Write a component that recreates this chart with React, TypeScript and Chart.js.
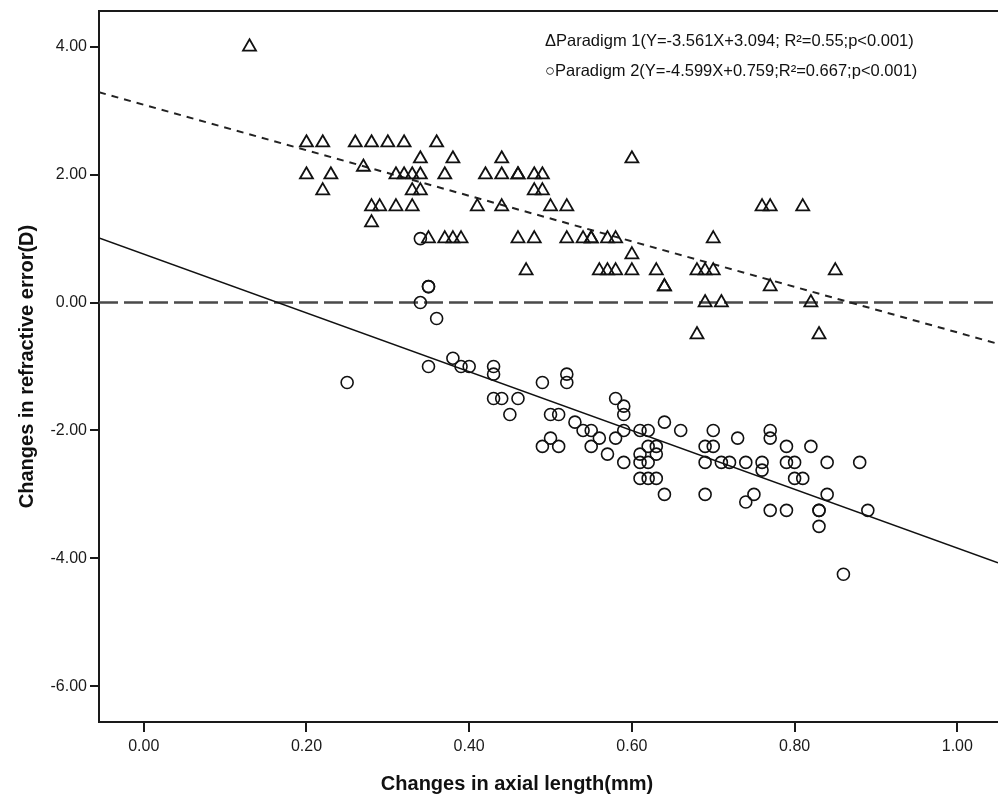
import React, { useEffect, useRef } from "react";
import { Chart, registerables } from "chart.js";

Chart.register(...registerables);

// Paradigm 1 (triangles)
const p1X = [
  0.13,
  0.20, 0.22, 0.26, 0.28, 0.30, 0.32, 0.36,
  0.34, 0.38, 0.44, 0.60,
  0.27,
  0.20, 0.23, 0.31, 0.32, 0.33, 0.34, 0.37, 0.42, 0.44, 0.46, 0.46, 0.48, 0.49,
  0.22, 0.33, 0.34, 0.48, 0.49,
  0.28, 0.29, 0.31, 0.33, 0.41, 0.44, 0.50, 0.52, 0.76, 0.77, 0.81,
  0.28,
  0.35, 0.37, 0.38, 0.39, 0.46, 0.48, 0.52, 0.54, 0.55, 0.55, 0.57, 0.58, 0.70,
  0.60,
  0.47, 0.56, 0.57, 0.58, 0.60, 0.63, 0.68, 0.69, 0.70, 0.85,
  0.64, 0.64, 0.77,
  0.69, 0.71, 0.82,
  0.68, 0.83,
];
const p1Y = [
  4.0,
  2.5, 2.5, 2.5, 2.5, 2.5, 2.5, 2.5,
  2.25, 2.25, 2.25, 2.25,
  2.12,
  2.0, 2.0, 2.0, 2.0, 2.0, 2.0, 2.0, 2.0, 2.0, 2.0, 2.0, 2.0, 2.0,
  1.75, 1.75, 1.75, 1.75, 1.75,
  1.5, 1.5, 1.5, 1.5, 1.5, 1.5, 1.5, 1.5, 1.5, 1.5, 1.5,
  1.25,
  1.0, 1.0, 1.0, 1.0, 1.0, 1.0, 1.0, 1.0, 1.0, 1.0, 1.0, 1.0, 1.0,
  0.75,
  0.5, 0.5, 0.5, 0.5, 0.5, 0.5, 0.5, 0.5, 0.5, 0.5,
  0.25, 0.25, 0.25,
  0.0, 0.0, 0.0,
  -0.5, -0.5,
];

// Paradigm 2 (circles)
const p2X = [
  0.25, 0.34, 0.35, 0.35, 0.34, 0.36, 0.38,
  0.35, 0.39, 0.40, 0.43, 0.43,
  0.43, 0.44, 0.46, 0.45, 0.49,
  0.50, 0.51, 0.50, 0.49, 0.51,
  0.52, 0.52, 0.53, 0.54, 0.55, 0.56, 0.55, 0.57,
  0.58, 0.59, 0.59, 0.59, 0.58, 0.59,
  0.61, 0.62, 0.62, 0.63, 0.61, 0.63, 0.61, 0.62, 0.61, 0.62, 0.63,
  0.64, 0.64, 0.66, 0.69, 0.70, 0.70, 0.69, 0.71, 0.72, 0.69,
  0.73, 0.74, 0.76, 0.76, 0.77, 0.77, 0.74, 0.75, 0.77, 0.79,
  0.79, 0.79, 0.80, 0.80, 0.81, 0.82, 0.83, 0.83, 0.83,
  0.84, 0.84, 0.88, 0.89, 0.86,
];
const p2Y = [
  -1.25, 1.0, 0.25, 0.25, 0.0, -0.25, -0.87,
  -1.0, -1.0, -1.0, -1.0, -1.12,
  -1.5, -1.5, -1.5, -1.75, -1.25,
  -1.75, -1.75, -2.12, -2.25, -2.25,
  -1.12, -1.25, -1.87, -2.0, -2.0, -2.12, -2.25, -2.37,
  -1.5, -1.62, -1.75, -2.0, -2.12, -2.5,
  -2.0, -2.0, -2.25, -2.25, -2.37, -2.37, -2.5, -2.5, -2.75, -2.75, -2.75,
  -1.87, -3.0, -2.0, -2.25, -2.25, -2.0, -2.5, -2.5, -2.5, -3.0,
  -2.12, -2.5, -2.5, -2.62, -2.0, -2.12, -3.12, -3.0, -3.25, -3.25,
  -2.25, -2.5, -2.5, -2.75, -2.75, -2.25, -3.25, -3.25, -3.5,
  -2.5, -3.0, -2.5, -3.25, -4.25,
];

// Fit lines (end points) and reference line
const fitX = [-0.055, 1.05];
const fit1Y = [3.29, -0.645];
const fit2Y = [1.01, -4.07];
const zeroY = [0, 0];

const xTicks = [0, 0.2, 0.4, 0.6, 0.8, 1.0];
const yTicks = [-6, -4, -2, 0, 2, 4];

const legendLines = [
  "\u0394Paradigm 1(Y=-3.561X+3.094; R\u00b2=0.55;p<0.001)",
  "\u25cbParadigm 2(Y=-4.599X+0.759;R\u00b2=0.667;p<0.001)",
];
const xTitle = "Changes in axial length(mm)";
const yTitle = "Changes in refractive error(D)";

const FONT = '"Liberation Sans", Arial, sans-serif';
const INK = "#1a1a1a";

const pts = (xs: number[], ys: number[]) => xs.map((x, i) => ({ x, y: ys[i] }));

const textPlugin = {
  id: "textPlugin",
  afterDraw(chart: any) {
    const { ctx, chartArea } = chart;
    ctx.save();
    // top frame line
    ctx.strokeStyle = INK;
    ctx.lineWidth = 2;
    ctx.beginPath();
    ctx.moveTo(chartArea.left, chartArea.top);
    ctx.lineTo(chartArea.right, chartArea.top);
    ctx.stroke();
    // legend text
    ctx.fillStyle = "#111";
    ctx.font = `16.5px ${FONT}`;
    ctx.textAlign = "left";
    ctx.textBaseline = "middle";
    ctx.fillText(legendLines[0], 545, 41);
    ctx.fillText(legendLines[1], 545, 71);
    // x title
    ctx.font = `bold 20px ${FONT}`;
    ctx.textAlign = "center";
    ctx.textBaseline = "middle";
    ctx.fillText(xTitle, 517, 784);
    ctx.restore();
  },
};

export default function App() {
  const ref = useRef<HTMLCanvasElement | null>(null);
  useEffect(() => {
    if (!ref.current) return;
    const chart = new Chart(ref.current, {
      type: "scatter",
      data: {
        datasets: [
          {
            label: "Paradigm 1",
            data: pts(p1X, p1Y),
            pointStyle: "triangle",
            pointRadius: 7.5,
            borderColor: "#111",
            borderWidth: 1.8,
            backgroundColor: "rgba(0,0,0,0)",
            order: 0,
          },
          {
            label: "Paradigm 2",
            data: pts(p2X, p2Y),
            pointStyle: "circle",
            pointRadius: 6,
            borderColor: "#111",
            borderWidth: 1.6,
            backgroundColor: "rgba(0,0,0,0)",
            order: 0,
          },
          {
            type: "line",
            label: "fit1",
            data: pts(fitX, fit1Y),
            borderColor: "#222",
            borderWidth: 2,
            borderDash: [7, 6],
            pointRadius: 0,
            fill: false,
            order: 1,
          } as any,
          {
            type: "line",
            label: "fit2",
            data: pts(fitX, fit2Y),
            borderColor: "#111",
            borderWidth: 1.6,
            pointRadius: 0,
            fill: false,
            order: 1,
          } as any,
          {
            type: "line",
            label: "zero",
            data: pts(fitX, zeroY),
            borderColor: "#4a4a4a",
            borderWidth: 2.5,
            borderDash: [19, 6],
            pointRadius: 0,
            fill: false,
            order: 2,
          } as any,
        ],
      },
      options: {
        animation: false,
        responsive: false,
        maintainAspectRatio: false,
        layout: { autoPadding: false, padding: { top: 11, right: 0, left: 0, bottom: 0 } },
        plugins: { legend: { display: false }, tooltip: { enabled: false } },
        scales: {
          x: {
            type: "linear",
            min: fitX[0],
            max: fitX[1],
            afterBuildTicks: (s: any) => {
              s.ticks = xTicks.map((v) => ({ value: v }));
            },
            afterFit: (s: any) => {
              s.height = 78;
              s.paddingLeft = 0;
              s.paddingRight = 0;
            },
            ticks: {
              autoSkip: false,
              maxRotation: 0,
              padding: 5,
              color: INK,
              font: { family: FONT, size: 16 },
              callback: (v: any) => Number(v).toFixed(2),
            },
            grid: {
              display: true,
              drawOnChartArea: false,
              drawTicks: true,
              tickLength: 10,
              color: INK,
              lineWidth: 2,
            },
            border: { display: true, color: INK, width: 2 },
          },
          y: {
            type: "linear",
            min: -6.56,
            max: 4.56,
            afterBuildTicks: (s: any) => {
              s.ticks = yTicks.map((v) => ({ value: v }));
            },
            afterFit: (s: any) => {
              s.width = 99;
              s.paddingTop = 0;
              s.paddingBottom = 0;
            },
            ticks: {
              autoSkip: false,
              padding: 3,
              color: INK,
              font: { family: FONT, size: 16 },
              callback: (v: any) => Number(v).toFixed(2),
            },
            grid: {
              display: true,
              drawOnChartArea: false,
              drawTicks: true,
              tickLength: 9,
              color: INK,
              lineWidth: 2,
            },
            border: { display: true, color: INK, width: 2 },
            title: {
              display: true,
              text: yTitle,
              color: "#111",
              font: { family: FONT, size: 20, weight: "bold" },
              padding: { top: 15, bottom: 0 },
            },
          },
        },
      },
      plugins: [textPlugin],
    } as any);
    return () => chart.destroy();
  }, []);
  return (
    <div style={{ position: "absolute", left: 0, top: 0, width: 998, height: 800, background: "#fff" }}>
      <canvas ref={ref} width={998} height={800} style={{ width: 998, height: 800 }} />
    </div>
  );
}
